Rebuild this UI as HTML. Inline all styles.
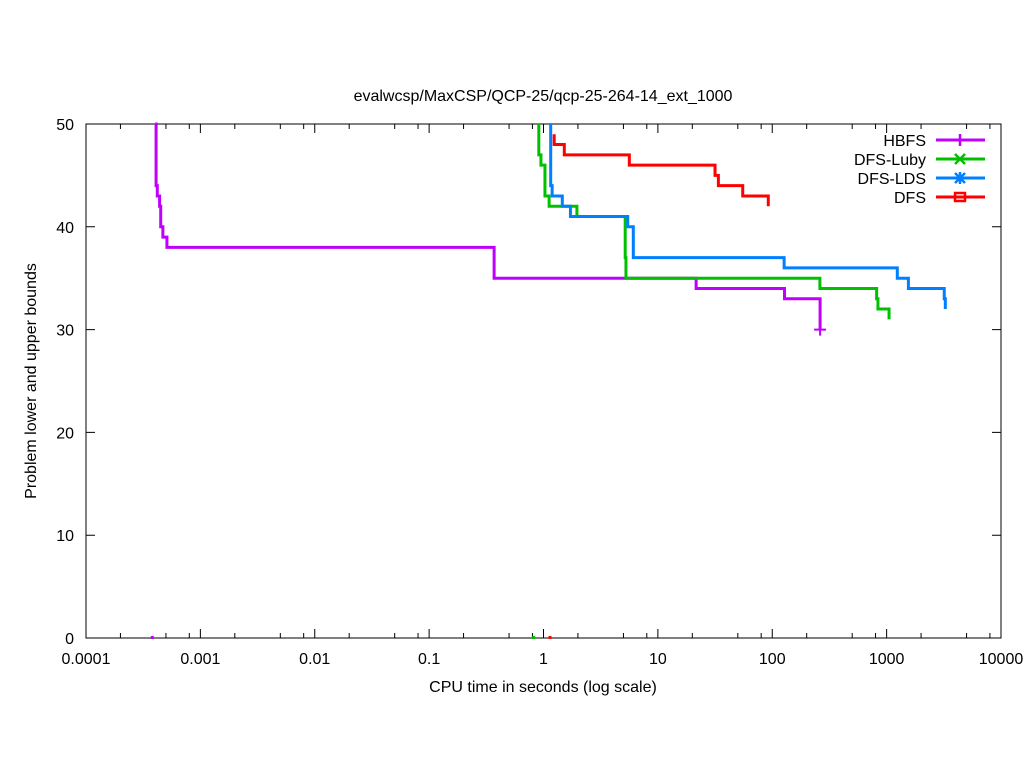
<!DOCTYPE html>
<html><head><meta charset="utf-8"><style>
body{margin:0;background:#fff}
svg{display:block;font-family:"Liberation Sans",sans-serif}
</style></head><body>
<svg id="chart" width="1024" height="768">
<rect x="0" y="0" width="1024" height="768" fill="#fff"/>
<text x="543" y="101" font-size="16" text-anchor="middle">evalwcsp/MaxCSP/QCP-25/qcp-25-264-14_ext_1000</text>
<text x="543" y="692" font-size="16" text-anchor="middle">CPU time in seconds (log scale)</text>
<text transform="translate(36,381) rotate(-90)" font-size="16" text-anchor="middle">Problem lower and upper bounds</text>
<g id="axes"></g>
<g id="series"></g>
<g id="legend"></g>
</svg>
<script>
const xTickLabels = ["0.0001","0.001","0.01","0.1","1","10","100","1000","10000"];
const yTickLabels = ["0","10","20","30","40","50"];
const seriesNames = ["HBFS","DFS-Luby","DFS-LDS","DFS"];
const hbfsTimes = [0.000403,0.00041,0.00042,0.00044,0.00045,0.00047,0.00051,0.37,21.6,128,262];
const hbfsValues = [50,44,43,42,40,39,38,35,34,33,30];
const lubyTimes = [0.91,0.91,0.95,1.03,1.12,1.96,5.18,5.26,261,818,840,1050];
const lubyValues = [50,47,46,43,42,41,37,35,34,33,32,31];
const ldsTimes = [1.156,1.156,1.19,1.46,1.72,5.45,6.1,127,1240,1550,3190,3260];
const ldsValues = [50,44,43,42,41,40,37,36,35,34,33,32];
const dfsTimes = [1.24,1.24,1.52,5.63,31.6,33.8,55.2,92.3];
const dfsValues = [49,48,47,46,45,44,43,42];
const zeroMarkTimes = [0.00038,0.82,1.14];

const NS="http://www.w3.org/2000/svg";
const X0=86,X1=1001,Y0=638,Y1=124;
function xs(t){return X0+(Math.log10(t)+4)/8*(X1-X0);}
function ys(v){return Y0-v/50*(Y0-Y1);}
function mk(tag,attrs,parent){const e=document.createElementNS(NS,tag);for(const k in attrs)e.setAttribute(k,attrs[k]);parent.appendChild(e);return e;}
const axes=document.getElementById('axes');
const r=mk('rect',{x:X0,y:Y1,width:X1-X0,height:Y0-Y1,fill:'none',stroke:'#000','stroke-width':1},axes);


xTickLabels.forEach((lab,i)=>{
  const t=Math.pow(10,i-4), x=xs(t);
  const p=mk('path',{d:`M${x},${Y0}v-9M${x},${Y1}v9`,stroke:'#000','stroke-width':1},axes);
  
  
  const tx=mk('text',{x:x,y:Y0+26,'font-size':16,'text-anchor':'middle'},axes);
  tx.textContent=lab;
  
  
  if(i<xTickLabels.length-1){[2,5,8].forEach(m=>{const xm=xs(t*m);
    const q=mk('path',{d:`M${xm},${Y0}v-5M${xm},${Y1}v5`,stroke:'#000','stroke-width':1},axes);
    
    });}
});
yTickLabels.forEach(lab=>{
  const y=ys(+lab);
  const p=mk('path',{d:`M${X0},${y}h9M${X1},${y}h-9`,stroke:'#000','stroke-width':1},axes);
  
  
  const tx=mk('text',{x:X0-12,y:y+6,'font-size':16,'text-anchor':'end'},axes);
  tx.textContent=lab;
  
  
});
const colors=["#c000ff","#00c000","#0080ff","#ff0000"];
const zeroColors=["#c000ff","#00c000","#ff0000"];
const data=[[hbfsTimes,hbfsValues],[lubyTimes,lubyValues],[ldsTimes,ldsValues],[dfsTimes,dfsValues]];
const sg=document.getElementById('series');
data.forEach(([T,V],k)=>{
  let d=`M${xs(T[0])},${ys(V[0])}`;
  for(let i=1;i<T.length;i++){d+=`H${xs(T[i])}V${ys(V[i])}`;}
  const p=mk('path',{d:d,fill:'none',stroke:colors[k],'stroke-width':3},sg);
  
  
});
zeroMarkTimes.forEach((t,k)=>{
  const z=mk('rect',{x:xs(t)-1.5,y:Y0-2,width:3,height:3,fill:zeroColors[k]},sg);
  
  
});
const ex=xs(hbfsTimes[hbfsTimes.length-1]), ey=ys(hbfsValues[hbfsValues.length-1]);
const em=mk('path',{d:`M${ex-6},${ey}h12M${ex},${ey-6}v12`,stroke:colors[0],'stroke-width':2},sg);


const lg=document.getElementById('legend');
seriesNames.forEach((n,k)=>{
  const y=140+k*19;
  const tx=mk('text',{x:926,y:y+6,'font-size':16,'text-anchor':'end'},lg);
  tx.textContent=n;
  
  
  const l=mk('path',{d:`M936,${y}H985`,stroke:colors[k],'stroke-width':3},lg);
  
  
  let md;
  if(k==0) md=`M960,${y-6}v12`;
  else if(k==1) md=`M955,${y-5}l10,10M965,${y-5}l-10,10`;
  else if(k==2) md=`M955,${y-5}l10,10M965,${y-5}l-10,10M960,${y-6}v12`;
  else md=`M955,${y-4}h10v8h-10z`;
  const m=mk('path',{d:md,fill:'none',stroke:colors[k],'stroke-width':2.5},lg);
  
  
});
</script>
</body></html>
